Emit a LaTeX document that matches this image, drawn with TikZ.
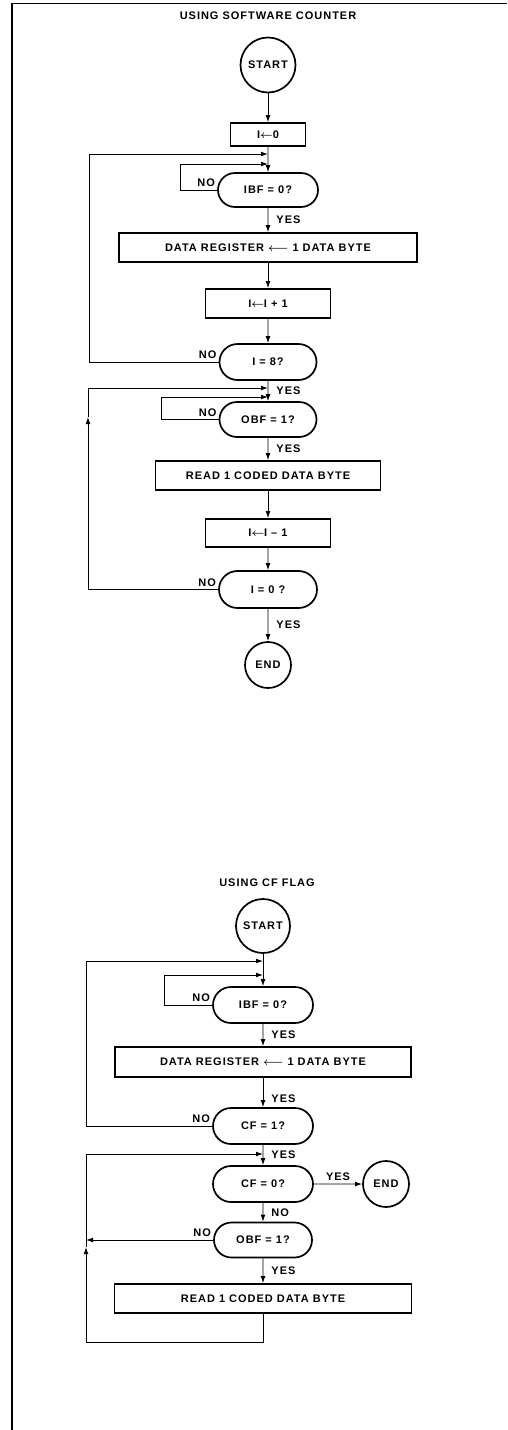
\documentclass[tikz,border=0pt]{standalone}
\usepackage{amsmath}
\usepackage{fontspec}
\newfontfamily\flow{Liberation Sans}[LetterSpace=9.0]
\usetikzlibrary{arrows.meta,shapes.misc}
\newcommand{\la}{$\boldsymbol{\leftarrow}$}
\newcommand{\lla}{$\boldsymbol{\longleftarrow}$}
\begin{document}
\begin{tikzpicture}[x=1pt,y=-1pt,
  every node/.style={font=\flow\bfseries\fontsize{11}{13}\selectfont, inner sep=0pt},
  proc/.style={draw, line width=1.7pt, rectangle},
  dec/.style={draw, line width=1.7pt, rounded rectangle, minimum width=98pt, minimum height=35pt},
  term/.style={draw, line width=1.7pt, circle},
  conn/.style={line width=0.9pt},
  arr/.style={conn, -{Latex[length=7pt,width=4.8pt]}},
  yes/.style={midway, anchor=west, xshift=8pt},
  nolbl/.style={anchor=south east, xshift=-2pt, yshift=3pt},
]
\useasboundingbox (0,0) rectangle (507,1430);
\draw[line width=1.9pt] (12,1430) -- (12,3.5) -- (507,3.5);

% ---------------- chart 1 ----------------
\node (t1) at (268,16) {USING SOFTWARE COUNTER};
\node[term, minimum size=55pt] (s1) at (268,65) {START};
\node[proc, minimum width=75pt, minimum height=23pt] (p0) at (268,134.5) {I\la0};
\node[dec, minimum width=100pt, minimum height=34pt] (d1) at (268,190) {IBF = 0?};
\node[proc, minimum width=298pt, minimum height=29pt] (p1) at (268,247.5) {DATA REGISTER \lla\ 1 DATA BYTE};
\node[proc, minimum width=125pt, minimum height=29pt] (p2) at (268,303.5) {I\la I + 1};
\node[dec, minimum width=97pt, minimum height=36pt] (d2) at (268,362) {I = 8?};
\node[dec, minimum width=97pt, minimum height=35pt] (d3) at (268,419.5) {OBF = 1?};
\node[proc, minimum width=225pt, minimum height=29pt] (p3) at (268,475.5) {READ 1 CODED DATA BYTE};
\node[proc, minimum width=125pt, minimum height=28pt] (p4) at (268,533) {I\la I – 1};
\node[dec, minimum width=98pt, minimum height=37pt] (d4) at (268,589.5) {I = 0 ?};
\node[term, minimum size=46pt] (e1) at (268,665) {END};

\coordinate (j1) at (268,154);
\coordinate (j2) at (268,164);
\coordinate (j3) at (268,388);
\coordinate (j4) at (268,397);
\coordinate (L1) at (89,0);
\coordinate (L2) at (180,0);
\coordinate (L3) at (161,0);
\coordinate (L4) at (88,0);
\coordinate (m1) at (88,417);

\draw[arr] (s1) -- (p0);
\draw[arr] (p0) -- (d1);
\draw[arr] (d1) -- node[yes] {YES} (p1);
\draw[arr] (d1.west) -- (d1.west -| L2) -- (L2 |- j2) -- (j2);
\node[nolbl] (n1) at (d1.west) {NO};
\draw[arr] (p1) -- (p2);
\draw[arr] (p2) -- (d2);
\draw[arr] (d2.west) -- (d2.west -| L1) -- (L1 |- j1) -- (j1);
\node[nolbl] (n2) at (d2.west) {NO};
\draw[arr] (d2) -- node[yes] {YES} (d3);
\draw[arr] (d3.west) -- (d3.west -| L3) -- (L3 |- j4) -- (j4);
\node[nolbl] (n3) at (d3.west) {NO};
\draw[arr] (d3) -- node[yes] {YES} (p3);
\draw[arr] (p3) -- (p4);
\draw[arr] (p4) -- (d4);
\draw[arr] (d4.west) -- (d4.west -| L4) -- (m1);
\draw[arr] (m1) -- (L4 |- j3) -- (j3);
\node[nolbl] (n4) at (d4.west) {NO};
\draw[arr] (d4) -- node[yes] {YES} (e1);

% ---------------- chart 2 ----------------
\node (t2) at (267,883) {USING CF FLAG};
\node[term, minimum size=54pt] (s2) at (263,926) {START};
\node[dec, minimum width=100pt, minimum height=36pt] (d5) at (263,1005) {IBF = 0?};
\node[proc, minimum width=296pt, minimum height=30pt] (p5) at (263,1062) {DATA REGISTER \lla\ 1 DATA BYTE};
\node[dec, minimum width=100pt, minimum height=36pt] (d6) at (263,1126) {CF = 1?};
\node[dec, minimum width=100pt, minimum height=36pt] (d7) at (263,1184) {CF = 0?};
\node[term, minimum size=46pt] (e2) at (386,1184) {END};
\node[dec, minimum width=98pt, minimum height=35pt] (d8) at (263,1240) {OBF = 1?};
\node[proc, minimum width=297pt, minimum height=29pt] (p6) at (263,1298.5) {READ 1 CODED DATA BYTE};

\coordinate (j5) at (263,961);
\coordinate (j6) at (263,975);
\coordinate (j7) at (263,1154);
\coordinate (L5) at (86,0);
\coordinate (L6) at (164,0);
\coordinate (b1) at (263,1342);
\coordinate (m2) at (86,1247);

\draw[arr] (s2) -- (d5);
\draw[arr] (d5.west) -- (d5.west -| L6) -- (L6 |- j6) -- (j6);
\node[nolbl] (n5) at (d5.west) {NO};
\draw[arr] (d5) -- node[yes] {YES} (p5);
\draw[arr] (p5) -- node[yes, pos=0.7] {YES} (d6);
\draw[arr] (d6.west) -- (d6.west -| L5) -- (L5 |- j5) -- (j5);
\node[nolbl] (n6) at (d6.west) {NO};
\draw[arr] (d6) -- node[yes] {YES} (d7);
\draw[arr] (d7) -- node[midway, anchor=south, yshift=3pt] {YES} (e2);
\draw[arr] (d7) -- node[yes] {NO} (d8);
\draw[arr] (d8.west) -- (d8.west -| L5);
\node[nolbl] (n7) at (d8.west) {NO};
\draw[arr] (d8) -- node[yes] {YES} (p6);
\draw[arr] (p6) -- (b1) -- (b1 -| L5) -- (m2);
\draw[arr] (m2) -- (L5 |- j7) -- (j7);
\end{tikzpicture}
\end{document}
